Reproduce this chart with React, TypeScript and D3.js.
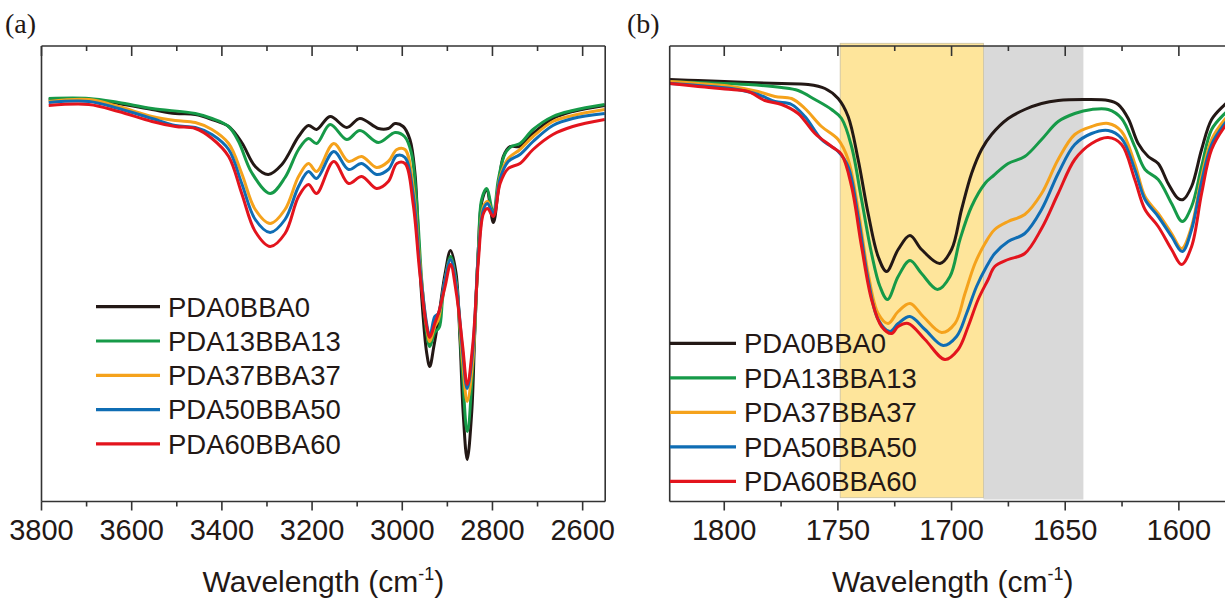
import React from "react";
import * as d3 from "d3";

type Pt = [number, number];

// ---------- Panel (a): 3800-2550 cm-1, transmittance (a.u.) ----------
const aPDA0BBA0: Pt[] = [
  [3784, 40.2], [3695, 40.2], [3629, 39.8], [3555, 39.2], [3503, 38.8], [3459, 38.7], [3422, 38.2],
  [3385, 37.5], [3356, 35.9], [3326, 33.5], [3297, 32.7], [3267, 33.7], [3230, 36.5], [3208, 37.6],
  [3190, 37.2], [3160, 38.5], [3123, 37.4], [3094, 38.3], [3053, 37.3], [3031, 37.3], [3016, 37.8],
  [2998, 37.5], [2983, 36.2], [2972, 32.9], [2965, 27.2], [2957, 20.5], [2946, 14.9], [2939, 13.5],
  [2930, 15.5], [2920, 18.2], [2905, 22.8], [2893, 25.1], [2881, 22.9], [2872, 16.2], [2865, 8.9],
  [2856, 4.2], [2846, 8.9], [2839, 17.2], [2831, 25.5], [2824, 29.9], [2813, 31.2], [2798, 27.9],
  [2787, 31.2], [2776, 34.5], [2761, 35.5], [2739, 35.5], [2710, 36.8], [2666, 38.3], [2622, 39.0],
  [2551, 39.6],
];
const aPDA13BBA13: Pt[] = [
  [3784, 40.3], [3695, 40.3], [3629, 39.9], [3555, 39.3], [3459, 38.8], [3422, 38.3], [3385, 37.5],
  [3363, 36.0], [3334, 32.9], [3293, 30.8], [3260, 32.4], [3230, 35.2], [3208, 36.3], [3190, 35.8],
  [3160, 37.7], [3123, 36.2], [3094, 37.1], [3053, 35.9], [3016, 36.9], [2995, 36.5], [2980, 34.9],
  [2969, 30.5], [2957, 22.2], [2946, 16.9], [2939, 15.5], [2928, 16.9], [2918, 17.4], [2910, 20.5],
  [2893, 24.5], [2881, 22.2], [2868, 13.9], [2856, 7.0], [2843, 13.9], [2831, 25.5], [2824, 30.2],
  [2813, 31.3], [2798, 28.8], [2787, 32.2], [2772, 34.8], [2758, 35.5], [2739, 35.8], [2710, 37.2],
  [2666, 38.5], [2622, 39.1], [2551, 39.7],
];
const aPDA37BBA37: Pt[] = [
  [3784, 40.0], [3695, 40.2], [3629, 39.5], [3555, 38.5], [3503, 38.1], [3459, 37.9], [3422, 37.2],
  [3385, 35.8], [3356, 32.8], [3326, 29.2], [3293, 27.8], [3260, 29.2], [3230, 32.5], [3208, 33.8],
  [3190, 33.0], [3152, 35.8], [3119, 34.0], [3090, 34.5], [3057, 33.4], [3031, 34.0], [3012, 35.2],
  [2994, 35.2], [2976, 31.5], [2961, 23.9], [2946, 17.5], [2939, 16.0], [2928, 17.5], [2920, 18.2],
  [2905, 22.2], [2893, 24.2], [2880, 21.5], [2866, 13.9], [2856, 10.0], [2844, 13.9], [2831, 24.9],
  [2820, 29.5], [2811, 30.0], [2798, 28.7], [2783, 32.5], [2765, 34.3], [2739, 35.2], [2710, 36.5],
  [2666, 38.0], [2622, 38.6], [2551, 39.2],
];
const aPDA50BBA50: Pt[] = [
  [3784, 39.9], [3695, 40.0], [3629, 39.3], [3555, 38.3], [3503, 37.6], [3459, 37.4], [3422, 36.7],
  [3385, 35.2], [3356, 31.8], [3326, 28.2], [3293, 26.9], [3260, 28.2], [3230, 31.5], [3208, 33.0],
  [3190, 32.3], [3152, 35.0], [3119, 33.2], [3090, 33.8], [3057, 32.7], [3031, 33.2], [3012, 34.6],
  [2994, 34.4], [2976, 30.8], [2961, 23.5], [2946, 17.8], [2939, 16.5], [2928, 18.5], [2920, 18.8],
  [2905, 22.2], [2893, 24.2], [2880, 21.5], [2866, 14.9], [2856, 11.3], [2844, 14.9], [2831, 24.9],
  [2820, 29.2], [2811, 29.8], [2798, 28.8], [2783, 32.3], [2765, 34.0], [2739, 34.7], [2710, 36.0],
  [2666, 37.6], [2622, 38.3], [2551, 38.8],
];
const aPDA60BBA60: Pt[] = [
  [3784, 39.6], [3695, 39.7], [3629, 39.0], [3555, 38.0], [3503, 37.5], [3459, 37.3], [3422, 36.3],
  [3385, 34.5], [3356, 30.8], [3326, 27.0], [3293, 25.5], [3260, 26.8], [3230, 30.5], [3208, 31.7],
  [3190, 30.8], [3152, 34.0], [3119, 31.8], [3090, 32.5], [3057, 31.3], [3031, 32.0], [3012, 33.8],
  [2994, 33.8], [2976, 29.8], [2961, 22.8], [2946, 17.5], [2939, 16.4], [2928, 17.8], [2920, 18.8],
  [2905, 21.5], [2893, 23.7], [2880, 20.8], [2866, 15.5], [2856, 11.7], [2844, 15.5], [2831, 24.2],
  [2820, 28.8], [2811, 29.3], [2798, 28.5], [2783, 31.8], [2765, 33.3], [2739, 33.8], [2710, 35.2],
  [2666, 36.7], [2622, 37.5], [2551, 38.2],
];

// ---------- Panel (b): 1824-1575 cm-1 ----------
const bPDA0BBA0: Pt[] = [
  [1824, 42.2], [1811.5, 42.1], [1789.5, 41.9], [1774.8, 41.8], [1763.1, 41.7], [1755.7, 41.3],
  [1749.9, 40.3], [1745.5, 38.5], [1741.1, 34.2], [1736.7, 28.8], [1732.3, 24.5], [1728.6, 23.0],
  [1723.5, 25.2], [1718.3, 26.6], [1713.2, 25.2], [1705.1, 23.8], [1700, 25.2], [1695.6, 29.2],
  [1691.2, 32.8], [1686.8, 35.2], [1682.4, 36.7], [1675.1, 38.3], [1667.8, 39.2], [1660.4, 39.8],
  [1653.1, 40.1], [1641.4, 40.2], [1631.1, 40.1], [1626.7, 39.7], [1622.3, 38.3], [1617.9, 35.8],
  [1613.5, 34.5], [1609.1, 33.8], [1604.7, 31.8], [1600.3, 30.3], [1598.1, 30.2], [1594.4, 31.5],
  [1590, 35.2], [1585.6, 38.2], [1579.8, 39.7], [1576, 40.5],
];
const bPDA13BBA13: Pt[] = [
  [1824, 42.0], [1811.5, 41.9], [1789.5, 41.7], [1774.8, 41.4], [1767.5, 41.1], [1760.1, 40.2],
  [1752.8, 39.2], [1748.4, 38.3], [1744, 35.5], [1739.6, 30.2], [1735.2, 24.8], [1731.5, 21.5],
  [1728.2, 20.2], [1723.5, 22.5], [1718.3, 24.1], [1713.2, 22.8], [1706.2, 21.2], [1700.7, 22.5],
  [1696.3, 26.2], [1691.2, 29.5], [1685.3, 31.8], [1681.5, 32.6], [1675.1, 33.8], [1667.8, 34.5],
  [1660.4, 36.2], [1653.1, 38.0], [1645.8, 38.8], [1638.4, 39.2], [1631.1, 39.2], [1625.2, 38.3],
  [1619.4, 35.5], [1614.9, 33.2], [1609.1, 32.2], [1603.2, 29.8], [1598.5, 28.0], [1594.4, 29.5],
  [1590, 33.5], [1585.6, 37.2], [1579.8, 38.8], [1576, 39.6],
];
const bPDA37BBA37: Pt[] = [
  [1824, 42.0], [1811.5, 41.8], [1796.8, 41.5], [1785.1, 41.0], [1777.7, 40.5], [1770.4, 40.3],
  [1764.5, 39.3], [1757.2, 37.5], [1749.9, 36.2], [1745.5, 34.2], [1741.1, 29.2], [1736.7, 22.8],
  [1732.3, 18.8], [1727.9, 17.8], [1723.5, 19.0], [1718.3, 19.8], [1712.5, 18.5], [1704.4, 16.9],
  [1698.5, 17.8], [1694.1, 20.8], [1689.7, 23.8], [1685.3, 25.8], [1681, 27.2], [1675.1, 28.0],
  [1667.8, 28.7], [1660.4, 30.8], [1653.1, 34.2], [1645.8, 36.7], [1638.4, 37.5], [1631.1, 37.8],
  [1625.2, 37.0], [1619.4, 33.8], [1614.9, 30.5], [1609.1, 28.8], [1603.2, 26.8], [1598.8, 25.3],
  [1594.4, 27.5], [1590, 32.5], [1585.6, 36.2], [1579.8, 38.2], [1576, 39.1],
];
const bPDA50BBA50: Pt[] = [
  [1824, 41.8], [1811.5, 41.6], [1796.8, 41.3], [1785.1, 40.7], [1777.7, 40.0], [1770.4, 39.7],
  [1764.5, 38.5], [1757.2, 36.2], [1749.9, 35.0], [1745.5, 33.5], [1741.1, 28.5], [1736.7, 22.2],
  [1732.3, 18.2], [1727.1, 17.0], [1723.5, 17.8], [1718.3, 18.5], [1711.7, 17.2], [1703.7, 15.6],
  [1697.8, 16.5], [1693.4, 18.8], [1689, 21.5], [1684.6, 23.5], [1681, 24.8], [1675.1, 26.0],
  [1667.8, 26.8], [1660.4, 29.2], [1653.1, 32.8], [1645.8, 35.7], [1638.4, 36.8], [1631.1, 37.1],
  [1625.2, 36.3], [1619.4, 33.2], [1614.9, 30.2], [1609.1, 28.5], [1603.2, 26.5], [1598.5, 25.0],
  [1594.4, 27.2], [1590, 32.0], [1585.6, 35.7], [1579.8, 37.8], [1576, 38.8],
];
const bPDA60BBA60: Pt[] = [
  [1824, 41.8], [1811.5, 41.5], [1796.8, 41.2], [1789.5, 41.0], [1782.1, 40.1], [1774.8, 39.7],
  [1767.5, 38.8], [1760.1, 36.8], [1752.8, 35.5], [1748.4, 34.7], [1744, 31.5], [1739.6, 25.5],
  [1735.2, 20.2], [1730.8, 17.5], [1726.4, 16.8], [1723.5, 17.5], [1719.1, 17.8], [1711.7, 16.2],
  [1702.9, 14.2], [1697.1, 15.2], [1692.7, 17.5], [1688.3, 20.2], [1683.9, 22.2], [1681, 23.5],
  [1675.1, 24.2], [1667.8, 24.8], [1660.4, 27.3], [1653.1, 30.8], [1645.8, 34.2], [1638.4, 35.8],
  [1631.1, 36.4], [1625.2, 35.7], [1619.4, 32.2], [1614.9, 29.2], [1609.1, 27.5], [1603.2, 25.2],
  [1598.8, 23.7], [1594.4, 25.5], [1590, 30.8], [1585.6, 35.2], [1579.8, 37.5], [1576, 38.5],
];

const seriesNames = ["PDA0BBA0", "PDA13BBA13", "PDA37BBA37", "PDA50BBA50", "PDA60BBA60"];
const seriesColors = ["#231815", "#169a48", "#f5a21c", "#0f6db4", "#e3141d"];
const aSeries = [aPDA0BBA0, aPDA13BBA13, aPDA37BBA37, aPDA50BBA50, aPDA60BBA60];
const bSeries = [bPDA0BBA0, bPDA13BBA13, bPDA37BBA37, bPDA50BBA50, bPDA60BBA60];

const aDomain = [3800, 2550];
const aMajorTicks = [3800, 3600, 3400, 3200, 3000, 2800, 2600];
const aMinorTicks = [3700, 3500, 3300, 3100, 2900, 2700];
const bDomain = [1824, 1575];
const bMajorTicks = [1800, 1750, 1700, 1650, 1600];
const bMinorTicks = [1775, 1725, 1675, 1625];
const yDomain = [0, 45.55];
const yellowBand = [1749, 1686];
const grayBand = [1686, 1642];

const SANS = '"Liberation Sans", Arial, Helvetica, sans-serif';
const SERIF = '"Liberation Serif", "Times New Roman", serif';
const FRAME = "#333";

const TOP = 46;
const BOTTOM = 501.5;

interface PanelProps {
  label: string;
  labelX: number;
  x0: number;
  x1: number;
  domain: number[];
  major: number[];
  minor: number[];
  series: Pt[][];
  legendX0: number;
  legendX1: number;
  legendTextX: number;
  legendY: number;
  legendDy: number;
  rightFrame: boolean;
  bands?: boolean;
}

function Panel(p: PanelProps) {
  const x = d3.scaleLinear().domain(p.domain).range([p.x0, p.x1]);
  const y = d3.scaleLinear().domain(yDomain).range([BOTTOM, TOP]);
  const line = d3
    .line<Pt>()
    .x((d) => x(d[0]))
    .y((d) => y(d[1]))
    .curve(d3.curveCatmullRom.alpha(0.5));
  const cx = (p.x0 + p.x1) / 2;
  return (
    <g>
      {p.bands && (
        <g>
          <rect
            x={x(grayBand[0])}
            y={TOP}
            width={x(grayBand[1]) - x(grayBand[0])}
            height={BOTTOM - 2 - TOP}
            fill="#d9d9d9"
          />
          <rect
            x={x(yellowBand[0])}
            y={TOP - 2.7}
            width={x(yellowBand[1]) - x(yellowBand[0])}
            height={BOTTOM - 3.8 - (TOP - 2.7)}
            fill="#fee59b"
            stroke="#c9c0a2"
            strokeWidth={0.8}
          />
        </g>
      )}
      {p.series.map((s, i) => (
        <path
          key={i}
          d={line(s) || ""}
          fill="none"
          stroke={seriesColors[i]}
          strokeWidth={3}
          strokeLinejoin="round"
        />
      ))}
      {/* frame */}
      <line x1={p.x0} x2={p.x1} y1={TOP} y2={TOP} stroke={FRAME} strokeWidth={1.6} />
      <line x1={p.x0} x2={p.x1} y1={BOTTOM} y2={BOTTOM} stroke={FRAME} strokeWidth={1.6} />
      <line x1={p.x0} x2={p.x0} y1={TOP} y2={BOTTOM} stroke={FRAME} strokeWidth={1.6} />
      {p.rightFrame && (
        <line x1={p.x1} x2={p.x1} y1={TOP} y2={BOTTOM} stroke={FRAME} strokeWidth={1.6} />
      )}
      {/* ticks */}
      {p.major.map((t) => (
        <g key={"M" + t}>
          <line x1={x(t)} x2={x(t)} y1={TOP} y2={TOP + 10} stroke={FRAME} strokeWidth={1.6} />
          <line x1={x(t)} x2={x(t)} y1={BOTTOM} y2={BOTTOM + 9} stroke={FRAME} strokeWidth={1.6} />
          <text
            x={x(t)}
            y={540}
            textAnchor="middle"
            fontFamily={SANS}
            fontSize={29}
            fill="#231815"
          >
            {t}
          </text>
        </g>
      ))}
      {p.minor.map((t) => (
        <g key={"m" + t}>
          <line x1={x(t)} x2={x(t)} y1={TOP} y2={TOP + 5} stroke={FRAME} strokeWidth={1.6} />
          <line x1={x(t)} x2={x(t)} y1={BOTTOM} y2={BOTTOM + 5} stroke={FRAME} strokeWidth={1.6} />
        </g>
      ))}
      {/* axis title */}
      <text x={cx} y={592} textAnchor="middle" fontFamily={SANS} fontSize={30} fill="#231815">
        Wavelength (cm
        <tspan fontSize={18} dy={-12}>
          -1
        </tspan>
        <tspan dy={12}>)</tspan>
      </text>
      {/* legend */}
      {seriesNames.map((n, i) => {
        const ly = p.legendY + i * p.legendDy;
        return (
          <g key={n}>
            <line
              x1={p.legendX0}
              x2={p.legendX1}
              y1={ly}
              y2={ly}
              stroke={seriesColors[i]}
              strokeWidth={3.2}
            />
            <text
              x={p.legendTextX}
              y={ly + 9.8}
              fontFamily={SANS}
              fontSize={27.5}
              fill="#231815"
            >
              {n}
            </text>
          </g>
        );
      })}
      {/* panel label */}
      <text x={p.labelX} y={33} fontFamily={SERIF} fontSize={28} fill="#231815">
        {p.label}
      </text>
    </g>
  );
}

export default function App() {
  return (
    <svg
      width={1225}
      height={601}
      viewBox="0 0 1225 601"
      style={{ position: "absolute", left: 0, top: 0, background: "#fff" }}
    >
      <rect x={0} y={0} width={1225} height={601} fill="#fff" />
      <Panel
        label="(a)"
        labelX={5}
        x0={41.5}
        x1={605.2}
        domain={aDomain}
        major={aMajorTicks}
        minor={aMinorTicks}
        series={aSeries}
        legendX0={96}
        legendX1={160}
        legendTextX={168}
        legendY={306.7}
        legendDy={34.3}
        rightFrame={true}
      />
      <Panel
        label="(b)"
        labelX={627}
        x0={669.7}
        x1={1235.7}
        domain={bDomain}
        major={bMajorTicks}
        minor={bMinorTicks}
        series={bSeries}
        legendX0={670}
        legendX1={736}
        legendTextX={744}
        legendY={343.3}
        legendDy={34.5}
        rightFrame={true}
        bands={true}
      />
    </svg>
  );
}
